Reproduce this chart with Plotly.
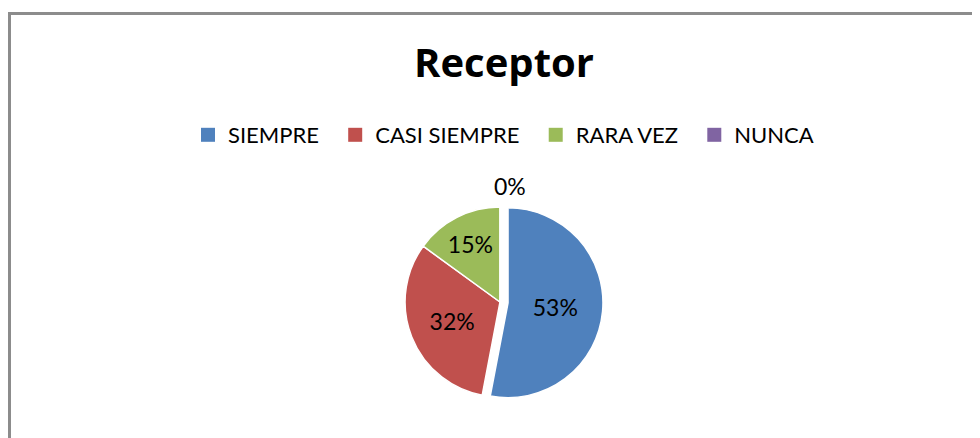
import plotly.graph_objects as go

categories = ["SIEMPRE", "CASI SIEMPRE", "RARA VEZ", "NUNCA"]
values = [53, 32, 15, 0]
colors = ["#4F81BD", "#C0504D", "#9BBB59", "#8064A2"]
pulls = [0.085, 0, 0, 0]
title_text = "Receptor"

# page body has an 8px margin, so the figure is sized to the visible area
W, H = 972, 430
FONT = "Lato"

total = sum(values)
positions = ["inside" if v > 0 else "none" for v in values]

fig = go.Figure()
fig.add_trace(go.Pie(
    labels=categories,
    values=values,
    sort=False,
    direction="clockwise",
    rotation=0,
    pull=pulls,
    marker=dict(colors=colors, line=dict(color="white", width=1.5)),
    texttemplate="%{percent:.0%}",
    textposition=positions,
    insidetextorientation="horizontal",
    textfont=dict(family=FONT, size=23, color="black"),
    domain=dict(x=[389 / W, 595 / W], y=[33 / H, 239 / H]),
    hoverinfo="label+percent",
    showlegend=False,
))

# legend entries with square swatches (Excel style)
for name, col in zip(categories, colors):
    fig.add_trace(go.Scatter(
        x=[None], y=[None], mode="markers", name=name + "\u00a0\u00a0",
        marker=dict(symbol="square", size=14, color=col),
        hoverinfo="skip", showlegend=True))

# label for the zero-value slice, shown just above the pie like the original
annotations = []
for name, v in zip(categories, values):
    if v == 0:
        annotations.append(dict(
            text=f"{v / total:.0%}", xref="paper", yref="paper",
            x=502 / W, y=1 - 178 / H, xanchor="center", yanchor="middle",
            showarrow=False, font=dict(family=FONT, size=23, color="black")))

fig.update_layout(
    width=W, height=H,
    margin=dict(l=0, r=0, t=0, b=0),
    paper_bgcolor="white",
    plot_bgcolor="white",
    font=dict(family=FONT, color="black"),
    xaxis=dict(visible=False),
    yaxis=dict(visible=False),
    title=dict(text="<b>" + title_text + "</b>", x=496 / W, xanchor="center",
               y=1 - 55 / H, yanchor="middle",
               font=dict(family="Open Sans", size=40, color="black")),
    legend=dict(orientation="h", x=501 / W, xanchor="center",
                y=1 - 127 / H, yanchor="middle",
                font=dict(family=FONT, size=22, color="black"),
                itemclick=False, itemdoubleclick=False),
    annotations=annotations,
    shapes=[
        dict(type="line", xref="paper", yref="paper",
             x0=0, x1=1.0, y0=1 - 5.5 / H, y1=1 - 5.5 / H,
             line=dict(color="#8C8C8C", width=3)),
        dict(type="line", xref="paper", yref="paper",
             x0=1.5 / W, x1=1.5 / W, y0=0, y1=1 - 4 / H,
             line=dict(color="#8C8C8C", width=3)),
    ],
)

fig.write_html("out.html")
